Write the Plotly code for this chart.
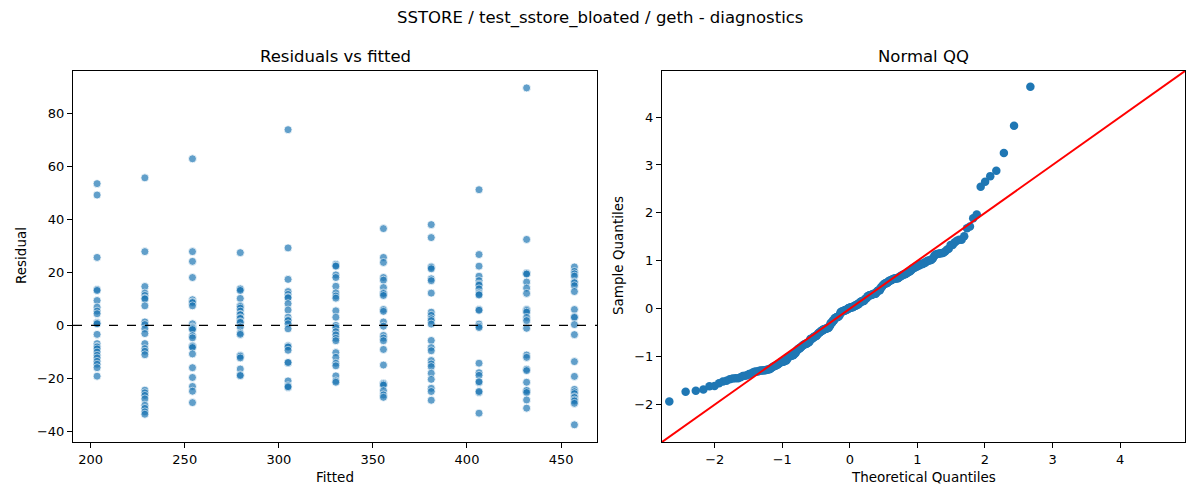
import numpy as np
import plotly.graph_objects as go
from statistics import NormalDist

# ---------------- data ----------------
fitted_levels = [203.4, 228.8, 254.1, 279.5, 304.9, 330.3, 355.6, 381.0, 406.4, 431.7, 457.1]

res_203 = [53.6, 49.3, 25.7, 13.6, 13.2, 9.4, 6.9, 5.4, 4.4, 1.1, 0.8, 0.6, -3.4, -6.9, -7.9,
           -8.2, -8.9, -10.1, -11.3, -12.3, -13.6, -14.7, -16.0, -19.2]
res_228 = [55.8, 27.9, 14.7, 12.2, 11.3, 10.3, 10.0, 7.4, 1.3, 0.3, -1.3, -3.1, -6.9, -8.8,
           -9.8, -11.1, -24.5, -25.5, -26.5, -27.8, -30.2, -31.4, -32.7, -33.6]
res_254 = [63.0, 27.9, 24.2, 18.1, 9.7, 8.9, 8.6, 7.4, 0.6, -0.6, -0.9, -1.2, -1.6, -3.9, -4.7,
           -7.7, -8.0, -8.4, -10.8, -16.0, -19.7, -23.1, -24.9, -29.2]
res_279 = [27.5, 13.9, 13.7, 13.2, 10.2, 7.4, 7.1, 6.5, 5.4, 4.2, 4.0, 2.9, 2.6, 1.4, 1.1, -0.6,
           -2.9, -3.4, -11.4, -11.7, -12.3, -16.5, -18.7, -19.0]
res_304 = [74.0, 29.3, 17.4, 12.8, 11.7, 10.7, 10.4, 8.2, 5.8, 3.1, 2.1, 1.8, 0.6, -1.3, -7.7,
           -8.0, -8.2, -9.4, -14.2, -14.0, -21.0, -22.8, -23.5, -23.2]
res_330 = [23.1, 22.6, 22.4, 19.1, 18.1, 14.8, 12.3, 11.1, 10.3, 5.5, 3.1, 0.0, -0.8, -2.4, -3.6,
           -4.9, -5.8, -10.3, -12.1, -14.3, -15.3, -19.1, -21.0, -21.5]
res_355 = [36.6, 25.7, 23.8, 18.1, 17.1, 14.3, 12.3, 12.0, 11.3, 6.0, 5.3, 1.3, -0.3, -3.8, -4.8,
           -5.8, -9.1, -15.0, -21.9, -22.2, -22.6, -24.7, -26.3, -27.2]
res_380 = [38.1, 33.2, 22.2, 21.9, 21.4, 17.6, 16.9, 12.2, 5.0, 3.8, 2.5, 1.8, 0.5, -5.7, -8.4,
           -9.6, -13.3, -14.6, -15.6, -18.1, -20.4, -23.8, -25.0, -28.3]
res_406 = [51.3, 26.8, 22.4, 18.6, 16.9, 15.6, 15.2, 13.8, 12.3, 11.8, 11.5, 6.0, 5.7, 0.5, -0.3,
           -0.8, -14.3, -17.9, -18.9, -21.6, -21.3, -25.4, -25.0, -33.2]
res_431 = [89.8, 32.5, 19.8, 19.6, 19.4, 16.4, 14.1, 12.1, 6.0, 5.6, 5.0, 3.0, 1.8, -1.1, -11.2,
           -12.1, -16.6, -17.1, -21.5, -24.9, -24.6, -25.4, -28.2, -31.3]
res_456 = [22.1, 20.4, 19.5, 18.6, 16.4, 16.1, 15.0, 12.8, 6.0, 3.3, 3.0, 0.3, -3.5, -13.7, -19.3,
           -24.2, -25.1, -25.8, -27.0, -27.3, -28.2, -28.6, -29.5, -37.6]

residual_groups = [res_203, res_228, res_254, res_279, res_304, res_330,
                   res_355, res_380, res_406, res_431, res_456]

x_ticks_left = [200, 250, 300, 350, 400, 450]
y_ticks_left = [-40, -20, 0, 20, 40, 60, 80]
ticks_right = [-2, -1, 0, 1, 2, 3, 4]

# ---------------- derived series ----------------
fitted = []
resid = []
for f, grp in zip(fitted_levels, residual_groups):
    fitted += [f] * len(grp)
    resid += grp
fitted = np.array(fitted)
resid = np.array(resid)

# Normal QQ (standardised residuals vs normal quantiles)
n = len(resid)
sample_q = np.sort((resid - resid.mean()) / resid.std())
nd = NormalDist()
theo_q = np.array([nd.inv_cdf(i / (n + 1)) for i in range(1, n + 1)])

# ---------------- figure ----------------
W, H = 1200, 500
BLUE = "#1f77b4"
FONT = "DejaVu Sans"

def px(v):
    return v / W

def py(v):
    return 1 - v / H

fig = go.Figure()

fig.add_trace(go.Scatter(
    x=fitted, y=resid, mode="markers",
    marker=dict(size=8, color=BLUE, opacity=0.7, line=dict(color="white", width=0.8)),
    xaxis="x", yaxis="y", showlegend=False, hoverinfo="skip"))

qq_lo, qq_hi = -2.78, 4.96
fig.add_trace(go.Scatter(
    x=theo_q, y=sample_q, mode="markers",
    marker=dict(size=8.5, color=BLUE, line=dict(width=0)),
    xaxis="x2", yaxis="y2", showlegend=False, hoverinfo="skip"))
fig.add_trace(go.Scatter(
    x=[qq_lo, qq_hi], y=[qq_lo, qq_hi], mode="lines",
    line=dict(color="red", width=2),
    xaxis="x2", yaxis="y2", showlegend=False, hoverinfo="skip"))

axis_common = dict(
    showline=True, mirror=True, linecolor="black", linewidth=1,
    ticks="outside", ticklen=5, tickwidth=1, tickcolor="black",
    showgrid=False, zeroline=False, automargin=False,
    tickfont=dict(family=FONT, size=13, color="black"),
)

fig.update_layout(
    width=W, height=H,
    margin=dict(l=0, r=0, t=0, b=0),
    paper_bgcolor="white", plot_bgcolor="white",
    font=dict(family=FONT, color="black"),
    xaxis=dict(domain=[px(73), px(597)], range=[190.6, 469.1],
               tickvals=x_ticks_left, anchor="y", **axis_common),
    yaxis=dict(domain=[py(442), py(71)], range=[-44.1, 96.2],
               tickvals=y_ticks_left, anchor="x", **axis_common),
    xaxis2=dict(domain=[px(662), px(1185)], range=[qq_lo, qq_hi],
                tickvals=ticks_right, anchor="y2", **axis_common),
    yaxis2=dict(domain=[py(442), py(71)], range=[qq_lo, qq_hi],
                tickvals=ticks_right, anchor="x2", **axis_common),
    shapes=[dict(type="line", xref="x domain", yref="y", x0=0, x1=1, y0=0, y1=0,
                 line=dict(color="black", width=1.2, dash="dash"))],
)

annotations = [
    dict(text="SSTORE / test_sstore_bloated / geth - diagnostics", x=0.5, y=py(18),
         font=dict(size=16.5)),
    dict(text="Residuals vs fitted", x=px(335), y=py(57), font=dict(size=16.5)),
    dict(text="Normal QQ", x=px(923.5), y=py(57), font=dict(size=16.5)),
    dict(text="Fitted", x=px(335), y=py(477), font=dict(size=13.5)),
    dict(text="Theoretical Quantiles", x=px(923.5), y=py(477), font=dict(size=13.5)),
    dict(text="Residual", x=px(21), y=py(256), textangle=-90, font=dict(size=13.5)),
    dict(text="Sample Quantiles", x=px(618), y=py(256), textangle=-90, font=dict(size=13.5)),
]
for a in annotations:
    a.update(xref="paper", yref="paper", showarrow=False, xanchor="center", yanchor="middle")
    a["font"].update(family=FONT, color="black")
fig.update_layout(annotations=annotations)

fig.write_html("out.html", config={"displayModeBar": False},
               post_script="document.body.style.margin='0';document.body.style.overflow='hidden';")
